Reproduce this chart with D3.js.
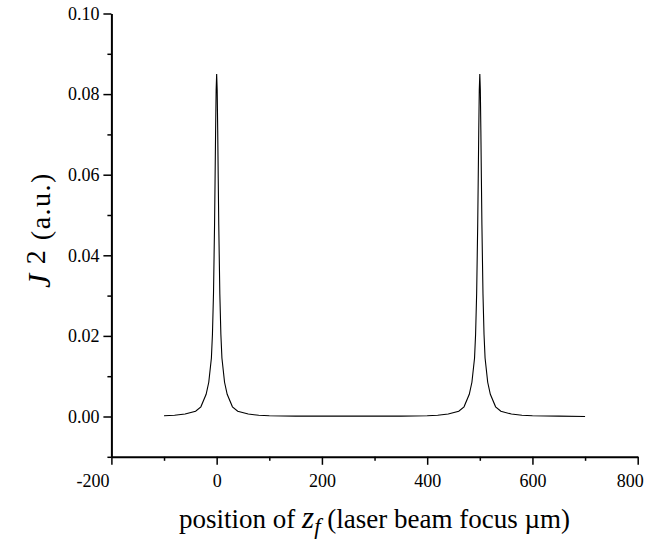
<!DOCTYPE html>
<meta charset="utf-8">
<title>J squared vs focus position</title>
<script src="https://d3js.org/d3.v7.min.js"></script>
<style>
  body { margin: 0; background: #fff; }
  svg text { font-family: "Liberation Serif", "Times New Roman", serif; fill: #000; }
  .axis path { stroke: #000; stroke-width: 2px; }
  .axis line { stroke: #000; stroke-width: 1.5px; }
  .curve { fill: none; stroke: #000; stroke-width: 1.1px; }
</style>
<div id="chart"></div>
<script>
// focus position z_f (um)
var zPos = [-100, -80, -60, -40, -30, -20, -15, -10, -8, -6, -4, -3, -2, -1, 0,
            1, 2, 3, 4, 6, 8, 10, 15, 20, 30, 40, 60, 80, 100,
            150, 200, 250, 300, 350,
            400, 420, 440, 460, 470, 480, 485, 490, 492, 494, 496, 497, 498, 499, 500,
            501, 502, 503, 504, 506, 508, 510, 515, 520, 530, 540, 560, 580, 600, 650, 700];
// J^2 (a.u.)
var jSq = [0.0002, 0.0003, 0.0006, 0.0013, 0.0024, 0.0055, 0.0085, 0.0145, 0.0204, 0.0305, 0.0475, 0.0590, 0.0710, 0.0810, 0.0850,
           0.0810, 0.0710, 0.0590, 0.0475, 0.0305, 0.0204, 0.0145, 0.0085, 0.0055, 0.0024, 0.0013, 0.0006, 0.0003, 0.0002,
           0.0001, 0.0001, 0.0001, 0.0001, 0.0001,
           0.0002, 0.0003, 0.0006, 0.0013, 0.0024, 0.0055, 0.0085, 0.0145, 0.0204, 0.0305, 0.0475, 0.0590, 0.0710, 0.0810, 0.0850,
           0.0810, 0.0710, 0.0590, 0.0475, 0.0305, 0.0204, 0.0145, 0.0085, 0.0055, 0.0024, 0.0013, 0.0006, 0.0003, 0.0002, 0.0001, 0.0000];

var xMajor = [-200, 0, 200, 400, 600, 800];
var xMinor = [-100, 100, 300, 500, 700];
var yMajor = [0.00, 0.02, 0.04, 0.06, 0.08, 0.10];
var yMinor = [-0.01, 0.01, 0.03, 0.05, 0.07, 0.09];

var W = 657, H = 551;
var serif = "'Liberation Serif', 'Times New Roman', serif";

var svg = d3.select("#chart").append("svg")
    .attr("width", W)
    .attr("height", H);

var x = d3.scaleLinear().domain([-200, 800]).range([111.4, 637.7]);
var y = d3.scaleLinear().domain([-0.01, 0.10]).range([456.8, 13.5]);

// x axis
var gx = svg.append("g")
    .attr("class", "axis")
    .attr("transform", "translate(0," + y(-0.01) + ")")
    .call(d3.axisBottom(x).tickValues(xMajor).tickSize(8).tickSizeOuter(0).tickPadding(9)
        .tickFormat(function(d) { return d < 0 ? "-" + Math.abs(d) : d; }));
gx.attr("font-family", serif).attr("font-size", 18);
gx.selectAll(".tick text")
    .attr("dx", function(d) { return d === -200 ? -19 : (d === 800 ? -8 : 0); });
svg.append("g")
    .attr("class", "axis")
    .attr("transform", "translate(0," + y(-0.01) + ")")
    .call(d3.axisBottom(x).tickValues(xMinor).tickSize(4).tickFormat(""))
    .select(".domain").remove();

// y axis
var gy = svg.append("g")
    .attr("class", "axis")
    .attr("transform", "translate(" + x(-200) + ",0)")
    .call(d3.axisLeft(y).tickValues(yMajor).tickSize(8).tickSizeOuter(0).tickPadding(4)
        .tickFormat(d3.format(".2f")));
gy.attr("font-family", serif).attr("font-size", 18);
svg.append("g")
    .attr("class", "axis")
    .attr("transform", "translate(" + x(-200) + ",0)")
    .call(d3.axisLeft(y).tickValues(yMinor).tickSize(4).tickFormat(""))
    .select(".domain").remove();

// curve
var line = d3.line()
    .x(function(d, i) { return x(zPos[i]); })
    .y(function(d) { return y(d); });

svg.append("path")
    .datum(jSq)
    .attr("class", "curve")
    .attr("d", line);

// x label
var xl = svg.append("text")
    .attr("font-size", 27)
    .attr("x", (x(-200) + x(800)) / 2)
    .attr("y", 528)
    .attr("text-anchor", "middle");
xl.append("tspan").text("position of ");
xl.append("tspan").style("font-style", "italic").style("font-size", "31px").text("z");
xl.append("tspan").style("font-style", "italic").style("font-size", "23px").attr("dy", 6).text("f");
xl.append("tspan").attr("dy", -6).text(" (laser beam focus \u00b5m)");

// y label
var yl = svg.append("text")
    .attr("font-size", 28)
    .attr("letter-spacing", 1.5)
    .attr("transform", "translate(50,230) rotate(-90)")
    .attr("text-anchor", "middle");
yl.append("tspan").style("font-style", "italic").style("font-size", "32px").text("J");
yl.append("tspan").attr("dy", -5).attr("dx", 8).text("2");
yl.append("tspan").attr("dy", 5).text(" (a.u.)");
</script>
